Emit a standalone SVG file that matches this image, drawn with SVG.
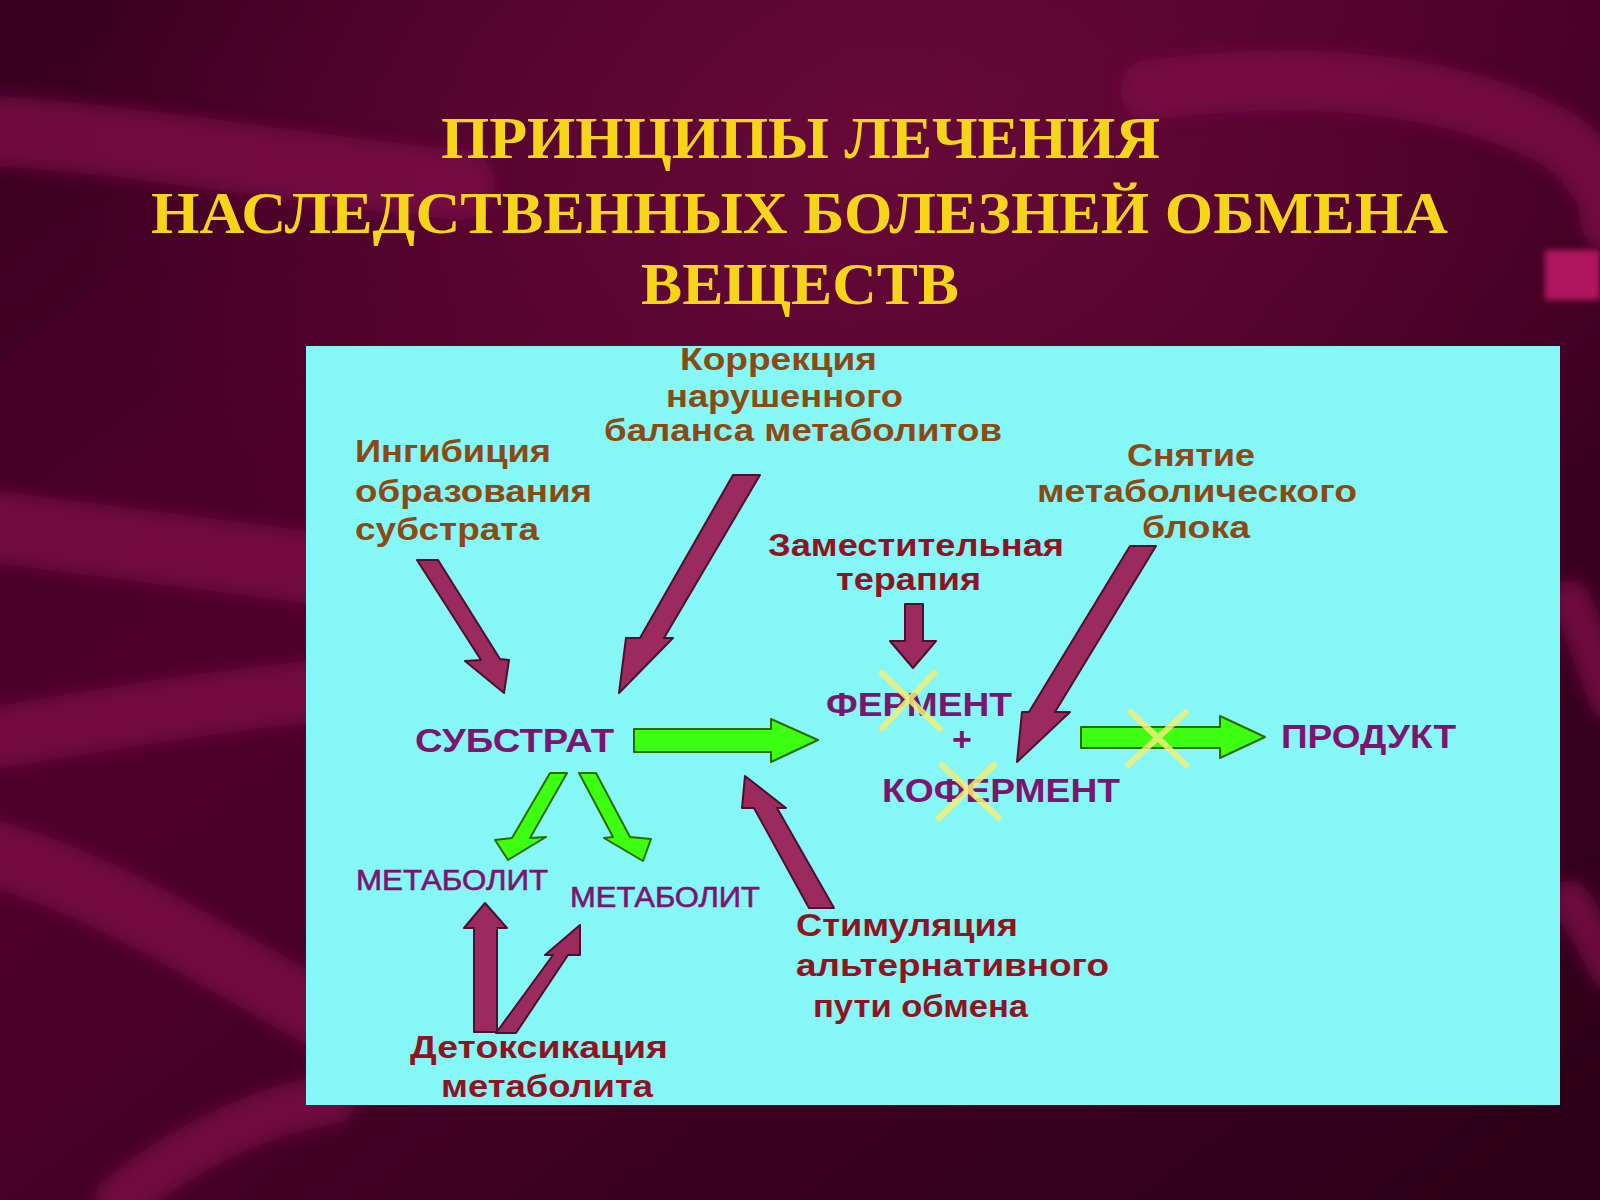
<svg xmlns="http://www.w3.org/2000/svg" width="1600" height="1200" viewBox="0 0 1600 1200">
<defs>
<linearGradient id="bg" x1="0" y1="0" x2="1" y2="1">
<stop offset="0" stop-color="#3a001f"/>
<stop offset="0.35" stop-color="#4f002b"/>
<stop offset="0.7" stop-color="#3c0020"/>
<stop offset="1" stop-color="#2c0017"/>
</linearGradient>
<radialGradient id="glow" cx="0.55" cy="0.12" r="0.5">
<stop offset="0" stop-color="#6a0a3a" stop-opacity="0.9"/>
<stop offset="1" stop-color="#6a0a3a" stop-opacity="0"/>
</radialGradient>
<filter id="soft" x="-20%" y="-20%" width="140%" height="140%"><feGaussianBlur stdDeviation="8"/></filter>
<filter id="soft2" x="-20%" y="-20%" width="140%" height="140%"><feGaussianBlur stdDeviation="3"/></filter>
</defs>
<style>
.title{font-family:"Liberation Serif","Times New Roman",serif;font-weight:bold;font-size:60px;fill:#f6d418;}
.lab{font-family:"Liberation Sans",Arial,sans-serif;font-weight:bold;font-size:31px;}
.brown{fill:#8b4a14;}
.red{fill:#8e1422;}
.node{font-family:"Liberation Sans",Arial,sans-serif;font-weight:bold;font-size:33px;fill:#7c1470;}
.met{font-family:"Liberation Sans",Arial,sans-serif;font-weight:normal;font-size:29px;fill:#7c1470;stroke:#7c1470;stroke-width:0.6;}
.ribbon{fill:none;stroke:#7c0e47;stroke-linecap:round;}
.maroon{fill:#9b2a5e;stroke:#4d0f2c;stroke-width:2;stroke-linejoin:round;}
.green{fill:#3cff12;stroke:#2d6b00;stroke-width:2;stroke-linejoin:round;}
.cross{stroke:#f2ee76;stroke-width:6;stroke-linecap:round;opacity:0.85;fill:none;}
</style>
<rect x="0" y="0" width="1600" height="1200" fill="url(#bg)"/>
<rect x="0" y="0" width="1600" height="1200" fill="url(#glow)"/>
<g filter="url(#soft)" opacity="0.8">
<path class="ribbon" stroke-width="70" d="M-20,130 C150,140 300,170 460,185"/>
<path class="ribbon" stroke-width="60" d="M1150,90 C1300,70 1450,80 1560,140 C1600,170 1610,200 1610,220"/>
<path class="ribbon" stroke-width="72" d="M-20,525 C100,540 220,555 330,570"/>
<path class="ribbon" stroke-width="62" d="M-20,740 C100,720 220,700 330,690"/>
<path class="ribbon" stroke-width="66" d="M-20,850 C100,880 220,960 330,1020"/>
<path class="ribbon" stroke-width="50" d="M120,1200 C180,1150 260,1110 330,1100"/>
<path class="ribbon" stroke-width="40" d="M1570,600 C1590,640 1600,680 1610,700"/>
<path class="ribbon" stroke-width="40" d="M1570,900 C1590,930 1600,950 1610,970"/>
</g>
<rect x="1545" y="250" width="55" height="50" fill="#b0145e" filter="url(#soft2)"/>
<g id="title">
<text class="title" x="441" y="158" textLength="719" lengthAdjust="spacingAndGlyphs">ПРИНЦИПЫ ЛЕЧЕНИЯ</text>
<text class="title" x="151" y="233" textLength="1297" lengthAdjust="spacingAndGlyphs">НАСЛЕДСТВЕННЫХ БОЛЕЗНЕЙ ОБМЕНА</text>
<text class="title" x="641" y="304" textLength="318" lengthAdjust="spacingAndGlyphs">ВЕЩЕСТВ</text>
</g>
<rect id="panel" x="306" y="346" width="1254" height="759" fill="#86f7f7"/>
<g id="connectors">
<polygon class="maroon" points="417,560 438,560 500,659 509,660 504,693 465,661 481,660"/>
<polygon class="maroon" points="733,475 760,475 664,638 673,638 619,693 626,638 640,638"/>
<polygon class="maroon" points="905,604 923,604 923,641 936,641 913,668 890,641 905,641"/>
<polygon class="maroon" points="1130,546 1156,546 1055,712 1070,712 1017,762 1022,712 1029,712"/>
<polygon class="maroon" points="834,908 809,908 754,808 742,808 745,776 786,808 777,808"/>
<polygon class="maroon" points="474,1032 497,1032 497,928 507,928 485,903 464,928 474,928"/>
<polygon class="maroon" points="496,1033 516,1033 568,955 580,955 580,925 545,955 553,955"/>
<polygon class="green" points="634,729 771,729 771,719 818,740 771,762 771,752 634,752"/>
<polygon class="green" points="1081,727 1220,727 1220,716 1265,737 1220,758 1220,748 1081,748"/>
<polygon class="green" points="550,773 567,773 530,838 546,837 508,860 495,840 512,838"/>
<polygon class="green" points="579,773 596,773 630,837 651,839 643,861 604,838 613,837"/>
</g>
<g id="label-inhibition">
<text class="lab brown" x="355" y="462" textLength="196" lengthAdjust="spacingAndGlyphs">Ингибиция</text>
<text class="lab brown" x="355" y="502" textLength="237" lengthAdjust="spacingAndGlyphs">образования</text>
<text class="lab brown" x="355" y="540" textLength="184" lengthAdjust="spacingAndGlyphs">субстрата</text>
</g>
<g id="label-correction">
<text class="lab brown" x="680" y="370" textLength="197" lengthAdjust="spacingAndGlyphs">Коррекция</text>
<text class="lab brown" x="666" y="407" textLength="237" lengthAdjust="spacingAndGlyphs">нарушенного</text>
<text class="lab brown" x="604" y="441" textLength="398" lengthAdjust="spacingAndGlyphs">баланса метаболитов</text>
</g>
<g id="label-replacement">
<text class="lab red" x="768" y="556" textLength="296" lengthAdjust="spacingAndGlyphs">Заместительная</text>
<text class="lab red" x="836" y="590" textLength="145" lengthAdjust="spacingAndGlyphs">терапия</text>
</g>
<g id="label-block">
<text class="lab brown" x="1127" y="466" textLength="128" lengthAdjust="spacingAndGlyphs">Снятие</text>
<text class="lab brown" x="1037" y="502" textLength="320" lengthAdjust="spacingAndGlyphs">метаболического</text>
<text class="lab brown" x="1142" y="538" textLength="108" lengthAdjust="spacingAndGlyphs">блока</text>
</g>
<g id="label-stimulation">
<text class="lab red" x="796" y="936" textLength="222" lengthAdjust="spacingAndGlyphs">Стимуляция</text>
<text class="lab red" x="796" y="976" textLength="313" lengthAdjust="spacingAndGlyphs">альтернативного</text>
<text class="lab red" x="813" y="1017" textLength="215" lengthAdjust="spacingAndGlyphs">пути обмена</text>
</g>
<g id="label-detox">
<text class="lab red" x="410" y="1058" textLength="258" lengthAdjust="spacingAndGlyphs">Детоксикация</text>
<text class="lab red" x="441" y="1097" textLength="212" lengthAdjust="spacingAndGlyphs">метаболита</text>
</g>
<g id="node-substrate"><text class="node" x="415" y="752" textLength="199" lengthAdjust="spacingAndGlyphs">СУБСТРАТ</text></g>
<g id="node-enzyme"><text class="node" x="826" y="716" textLength="186" lengthAdjust="spacingAndGlyphs">ФЕРМЕНТ</text></g>
<g id="node-plus"><text class="node" x="962" y="751" text-anchor="middle" style="font-size:34px">+</text></g>
<g id="node-coenzyme"><text class="node" x="882" y="802" textLength="238" lengthAdjust="spacingAndGlyphs">КОФЕРМЕНТ</text></g>
<g id="node-product"><text class="node" x="1281" y="748" textLength="175" lengthAdjust="spacingAndGlyphs">ПРОДУКТ</text></g>
<g id="node-metabolite1"><text class="met" x="356" y="890" textLength="192" lengthAdjust="spacingAndGlyphs">МЕТАБОЛИТ</text></g>
<g id="node-metabolite2"><text class="met" x="570" y="907" textLength="190" lengthAdjust="spacingAndGlyphs">МЕТАБОЛИТ</text></g>
<g id="crosses">
<path class="cross" d="M882,673 L940,729 M934,673 L882,728"/>
<path class="cross" d="M942,765 L999,818 M994,765 L939,818"/>
<path class="cross" d="M1131,712 L1186,765 M1186,712 L1128,765"/>
</g>
</svg>
